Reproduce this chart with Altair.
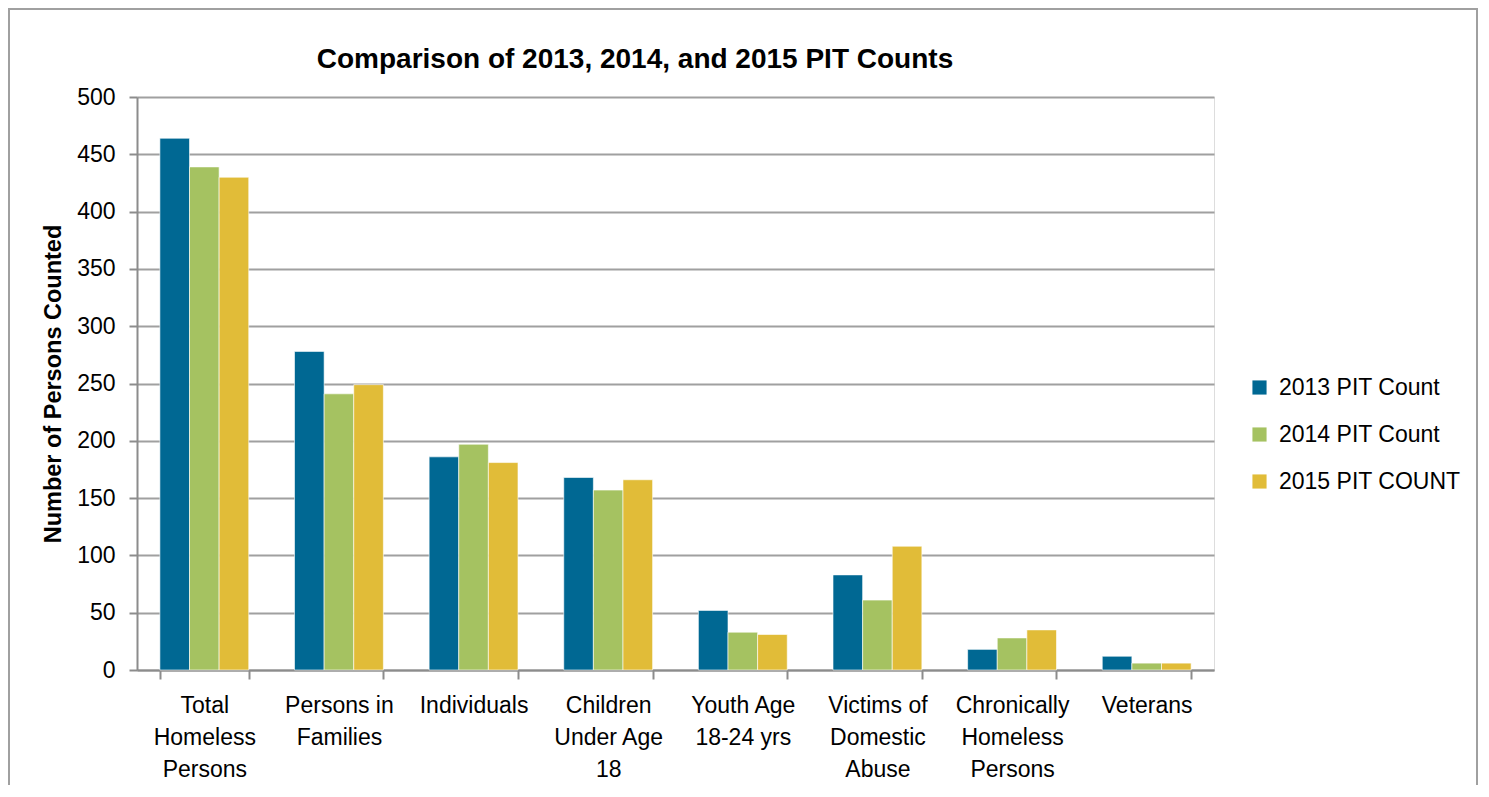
import altair as alt
import pandas as pd

categories = [
    "Total\nHomeless\nPersons",
    "Persons in\nFamilies",
    "Individuals",
    "Children\nUnder Age\n18",
    "Youth Age\n18-24 yrs",
    "Victims of\nDomestic\nAbuse",
    "Chronically\nHomeless\nPersons",
    "Veterans",
]
series = ["2013 PIT Count", "2014 PIT Count", "2015 PIT COUNT"]
values_2013 = [464, 278, 186, 168, 52, 83, 18, 12]
values_2014 = [439, 241, 197, 157, 33, 61, 28, 6]
values_2015 = [430, 249, 181, 166, 31, 108, 35, 6]
colors = ["#006893", "#a5c261", "#e1bc38"]
title_text = "Comparison of 2013, 2014, and 2015 PIT Counts"

rows = []
for s, vals in zip(series, [values_2013, values_2014, values_2015]):
    for c, v in zip(categories, vals):
        rows.append({"category": c, "series": s, "value": v})
df = pd.DataFrame(rows)

FONT = "Liberation Sans, Arial, sans-serif"
FS = 23

bars = alt.Chart(df).mark_bar(stroke="white", strokeWidth=0.6).encode(
    x=alt.X(
        "category:N",
        sort=categories,
        scale=alt.Scale(paddingInner=0.34, paddingOuter=0.17),
        axis=alt.Axis(
            title=None,
            labelAngle=0,
            labelExpr="split(datum.label, '\\n')",
            labelLineHeight=32,
            labelFontSize=FS,
            labelFont=FONT,
            labelColor="black",
            labelPadding=15,
            labelBaseline="top",
            labelLimit=300,
            tickBand="extent",
            tickSize=9,
            tickColor="#8c8c8c",
            tickWidth=2,
            domainColor="#8c8c8c",
            domainWidth=2,
            grid=False,
        ),
    ),
    xOffset=alt.XOffset("series:N", sort=series),
    y=alt.Y(
        "value:Q",
        scale=alt.Scale(domain=[0, 500]),
        axis=alt.Axis(
            title="Number of Persons Counted",
            titleFont=FONT,
            titleFontSize=23.5,
            titleFontWeight="bold",
            titleColor="black",
            titlePadding=11,
            values=list(range(0, 501, 50)),
            labelFontSize=FS,
            labelFont=FONT,
            labelColor="black",
            labelPadding=14,
            tickSize=8,
            tickColor="#8c8c8c",
            tickWidth=2,
            domainColor="#8c8c8c",
            domainWidth=2,
            gridColor="#a0a0a0",
            gridWidth=2,
        ),
    ),
    color=alt.Color(
        "series:N",
        sort=series,
        scale=alt.Scale(domain=series, range=colors),
        legend=alt.Legend(
            title=None,
            orient="none",
            legendX=1111,
            legendY=279,
            padding=0,
            symbolType="square",
            symbolSize=200,
            symbolStrokeWidth=0,
            labelFont=FONT,
            labelFontSize=FS,
            labelColor="black",
            labelLimit=300,
            rowPadding=23,
            labelOffset=8,
        ),
    ),
)

border = alt.Chart(df).mark_rect(
    fill=None, stroke="#a0a0a0", strokeWidth=2
).encode(
    x=alt.value(-128), x2=alt.value(1340), y=alt.value(-88), y2=alt.value(760)
)

title = alt.Chart(pd.DataFrame({"t": [title_text]})).mark_text(
    font=FONT, fontSize=28, fontWeight="bold", color="black",
    align="center", baseline="middle",
).encode(text="t:N", x=alt.value(498), y=alt.value(-37))

chart = alt.layer(border, bars, title).properties(
    width=1077,
    height=573,
    autosize=alt.AutoSizeParams(type="none"),
    padding={"left": 129, "top": 89, "right": 265, "bottom": 115},
).configure_view(stroke=None).configure(background="white")

chart.save("out.html", embed_options={"renderer": "svg", "actions": False})
